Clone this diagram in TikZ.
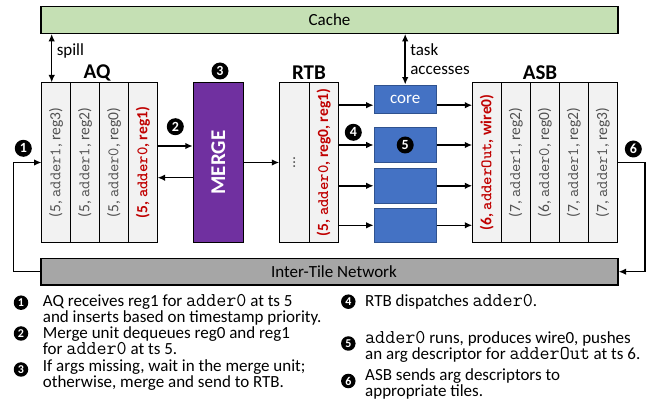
\documentclass[tikz,border=0pt]{standalone}
\usepackage{fontspec}
\setmainfont{Carlito}
\usetikzlibrary{arrows.meta,positioning}

\definecolor{cachegreen}{HTML}{C5E0B4}
\definecolor{netgray}{HTML}{A6A6A6}
\definecolor{cellgray}{HTML}{F2F2F2}
\definecolor{mergepurple}{HTML}{7030A0}
\definecolor{coreblue}{HTML}{4472C4}
\definecolor{coreedge}{HTML}{2F528F}
\definecolor{argred}{HTML}{C00000}
\definecolor{arggray}{HTML}{505050}

\newcommand{\boxcode}[1]{{\fontsize{16}{16}\selectfont\ttfamily #1}}
\newcommand{\legcode}[1]{{\fontsize{19.5}{16.5}\selectfont\ttfamily #1}}
\newcommand{\argtuple}[3]{\rotatebox{90}{(#1, \boxcode{#2}, #3)}}

\begin{document}
\begin{tikzpicture}[x=1pt,y=-1pt,>={Latex[length=7.5pt,width=6.5pt]},
    every node/.style={font=\fontsize{17}{16.5}\selectfont},
    cell/.style={draw,line width=1.1pt,fill=cellgray,minimum width=29pt,minimum height=160pt,
      inner sep=0pt,outer sep=0pt,text=arggray,font=\fontsize{15.5}{15.5}\selectfont},
    hot/.style={text=argred,font=\fontsize{15.5}{15.5}\selectfont\bfseries},
    core/.style={draw=coreedge,line width=1pt,fill=coreblue,minimum width=62pt,inner sep=0pt,text=white},
    bar/.style={draw,line width=1.1pt,minimum width=577pt,minimum height=26.7pt},
    num/.style={circle,fill=black,text=white,inner sep=0pt,minimum size=17pt,
      font=\fontsize{14}{14}\selectfont\bfseries},
    lnum/.style={num,minimum size=14.5pt,font=\fontsize{12}{12}\selectfont\bfseries},
    title/.style={font=\fontsize{21}{21}\selectfont\bfseries},
    flow/.style={->,line width=1.5pt},
    legend/.style={anchor=west,align=left,inner sep=0pt}]
  \useasboundingbox (0,0) rectangle (654,406);

  % cache and network
  \node[bar,fill=cachegreen] (cache) at (329.5,20) {Cache};
  \node[bar,fill=netgray] (net) at (329.5,271.7) {\hspace{9pt}Inter-Tile Network};

  % argument queue
  \node[cell] (aq1) at (56,162.5) {\argtuple{5}{adder1}{reg3}};
  \node[cell,right=0pt of aq1] (aq2) {\argtuple{5}{adder1}{reg2}};
  \node[cell,right=0pt of aq2] (aq3) {\argtuple{5}{adder0}{reg0}};
  \node[cell,hot,right=0pt of aq3] (aq4) {\argtuple{5}{adder0}{reg1}};
  \node[title] (aqlabel) at (97,72.5) {AQ};

  % merge unit
  \node[draw,line width=1.1pt,fill=mergepurple,minimum width=50pt,minimum height=160pt,
    inner sep=0pt,text=white,title] (merge) at (218.3,162.5) {\rotatebox{90}{MERGE}};

  % ready task buffer
  \node[cell,minimum width=30pt] (rtb1) at (294.3,162.5) {\rotatebox{90}{...}};
  \node[cell,hot,right=0pt of rtb1] (rtb2) {\rotatebox{90}{(5, \boxcode{adder0}, reg0, reg1)}};
  \node[title] (rtblabel) at (309,72.5) {RTB};

  % cores
  \node[core,minimum height=28.3pt] (core1) at (405.2,99.2) {core};
  \node[core,minimum height=35.4pt] (core2) at (405.2,145) {};
  \node[core,minimum height=35pt] (core3) at (405.2,185.8) {};
  \node[core,minimum height=34pt] (core4) at (405.2,225.3) {};

  % argument send buffer
  \node[cell,hot] (asb1) at (486.8,162.5) {\argtuple{6}{adderOut}{wire0}};
  \node[cell,right=0pt of asb1] (asb2) {\argtuple{7}{adder1}{reg2}};
  \node[cell,right=0pt of asb2] (asb3) {\argtuple{6}{adder0}{reg0}};
  \node[cell,right=0pt of asb3] (asb4) {\argtuple{7}{adder1}{reg2}};
  \node[cell,right=0pt of asb4] (asb5) {\argtuple{7}{adder1}{reg3}};
  \node[title] (asblabel) at (540,72.5) {ASB};

  % connectors
  \coordinate (spillbot) at ([xshift=-4.3pt]aq1.north);
  \draw[flow,<->] (spillbot |- cache.south) -- node[pos=0.35,right=1pt] {spill} (spillbot);
  \draw[flow,<->] (cache.south -| core1.north) -- node[right=1pt,align=left,
    font=\fontsize{17}{18.3}\selectfont] {task\\accesses} (core1.north);
  \coordinate (inturn) at (13.3,162.5);
  \draw[flow] (net.west) -| (inturn) -- (aq1.west);
  \draw[flow] (aq4.east |- 0,146) -- (merge.west |- 0,146);
  \draw[flow] (merge.west |- 0,177.7) -- (aq4.east |- 0,177.7);
  \draw[flow] (merge.east) -- (rtb1.west);
  \coordinate (c1) at ([yshift=-6pt]core1.west);
  \coordinate (c1out) at ([yshift=-6pt]core1.east);
  \draw[flow] (rtb2.east |- c1) -- (c1);
  \draw[flow] (c1out) -- (asb1.west |- c1out);
  \foreach \c in {core2,core3,core4} {
    \draw[flow] (rtb2.east |- \c.west) -- (\c.west);
    \draw[flow] (\c.east) -- (asb1.west |- \c.east);
  }
  \coordinate (outturn) at (645,162.5);
  \draw[flow] (asb5.east) -- (outturn) |- (net.east);

  % step markers
  \node[num] (m1) at (23.3,148.3) {1};
  \node[num] (m2) at (175.3,126.7) {2};
  \node[num] (m3) at (220,71) {3};
  \node[num] (m4) at (353.3,132.3) {4};
  \node[num] (m5) at (core2) {5};
  \node[num] (m6) at (633.3,149) {6};

  % legend
  \node[lnum] (l1) at (21,302.7) {1};
  \node[legend] (t1) at (42.7,310) {AQ receives reg1 for \legcode{adder0} at ts 5\\
    and inserts based on timestamp priority.};
  \node[lnum] (l2) at (21,333.5) {2};
  \node[legend] (t2) at (42.7,340.5) {Merge unit dequeues reg0 and reg1\\
    for \legcode{adder0} at ts 5.};
  \node[lnum] (l3) at (21,369.5) {3};
  \node[legend] (t3) at (42.7,375) {If args missing, wait in the merge unit;\\
    otherwise, merge and send to RTB.};
  \node[lnum] (l4) at (348.3,301.7) {4};
  \node[legend] (t4) at (365,302) {RTB dispatches \legcode{adder0}.};
  \node[lnum] (l5) at (348.3,343.5) {5};
  \node[legend] (t5) at (365,346.7) {\legcode{adder0} runs, produces wire0, pushes\\
    an arg descriptor for \legcode{adderOut} at ts 6.};
  \node[lnum] (l6) at (348.3,381) {6};
  \node[legend] (t6) at (365,383.8) {ASB sends arg descriptors to\\
    appropriate tiles.};
\end{tikzpicture}
\end{document}
